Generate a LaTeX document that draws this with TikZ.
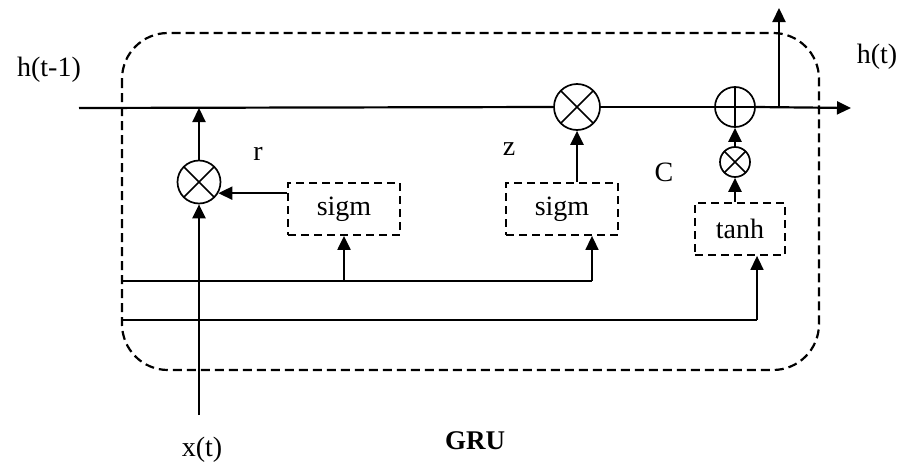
\documentclass[tikz,border=0pt]{standalone}
\usepackage{fontspec}
\setmainfont{Liberation Serif}
\usetikzlibrary{positioning,arrows.meta,calc}
\tikzset{
  gate/.style={draw,line width=1.8pt,dash pattern=on 8pt off 5pt,inner sep=0pt,
               minimum width=112pt,minimum height=52pt,font=\fontsize{28}{32}\selectfont},
  mult/.style={circle,draw,line width=1.7pt,inner sep=0pt,
               path picture={\draw[line width=1.7pt]
                 (path picture bounding box.south west) -- (path picture bounding box.north east)
                 (path picture bounding box.north west) -- (path picture bounding box.south east);}},
  plus/.style={circle,draw,line width=1.7pt,inner sep=0pt,
               path picture={\draw[line width=1.7pt]
                 (path picture bounding box.north) -- (path picture bounding box.south)
                 (path picture bounding box.west) -- (path picture bounding box.east);}},
  lbl/.style={inner sep=0pt,font=\fontsize{28}{32}\selectfont},
  wire/.style={line width=2.2pt},
  bus/.style={line width=1.6pt},
  flow/.style={-{Triangle[length=14pt,width=13pt]},line width=2.2pt},
  cell/.style={line width=2.2pt,dash pattern=on 9pt off 5pt,rounded corners=46pt}
}

\begin{document}
\begin{tikzpicture}[x=1pt,y=-1pt]
    \useasboundingbox (0,0) rectangle (902,463);
    % cell border
    \draw[cell] (122,33) rectangle (819,370);
    % state line
    \coordinate (hin) at (79,108);
    \coordinate (hout) at (851,108);
    \coordinate (br) at (779,108);
    \coordinate (hup) at (779,8);
    \node[mult,minimum size=43pt] (mr) at (199,182) {};
    \node[mult,minimum size=46pt] (mz) at (577,107) {};
    \node[plus,minimum size=40pt] (pl) at (735,107) {};
    \node[mult,minimum size=30pt] (mc) at (735,162) {};
    \node[gate] (s1) at (344,209) {sigm};
    \node[gate] (s2) at (562,209) {sigm};
    \node[gate,minimum width=90pt] (th) at (740,229) {tanh};
    % inputs
    \coordinate (xin) at (199,415);
    \coordinate (b1) at (122,281);
    \coordinate (b1e) at (592,281);
    \coordinate (b2) at (122,320);
    \coordinate (b2e) at (757,320);
    % labels
    \node[lbl] (lh0) at (49,70) {h(t-1)};
    \node[lbl] (lh1) at (877,57) {h(t)};
    \node[lbl] (lx) at (202,450) {x(t)};
    \node[lbl] (lr) at (258,154) {r};
    \node[lbl] (lz) at (509,149) {z};
    \node[lbl] (lc) at (664,172) {C};
    \node[lbl,font=\fontsize{27}{32}\selectfont\bfseries] (lg) at (475,441) {GRU};
    % connections
    \draw[wire] (hin) -- (mz.west);
    \draw[wire] (mz.east) -- (pl.west);
    \draw[flow] (pl.east) -- (hout);
    \draw[flow] (br) -- (hup);
    \draw[flow] (mr.north) -- (mr |- hin);
    \draw[flow] (xin) -- (mr.south);
    \draw[flow] (s1.west |- mr.-30) -- (mr.-30);
    \draw[flow] (mz |- s2.north) -- (mz.south);
    \draw[flow] (mc.north) -- (pl.south);
    \draw[flow] (mc |- th.north) -- (mc.south);
    \draw[bus] (b1) -- (b1e);
    \draw[bus,-{Triangle[length=14pt,width=13pt]}] (b1e) -- (b1e |- s2.south);
    \draw[flow] (s1 |- b1) -- (s1.south);
    \draw[bus] (b2) -- (b2e);
    \draw[bus,-{Triangle[length=14pt,width=13pt]}] (b2e) -- (b2e |- th.south);
\end{tikzpicture}
\end{document}
